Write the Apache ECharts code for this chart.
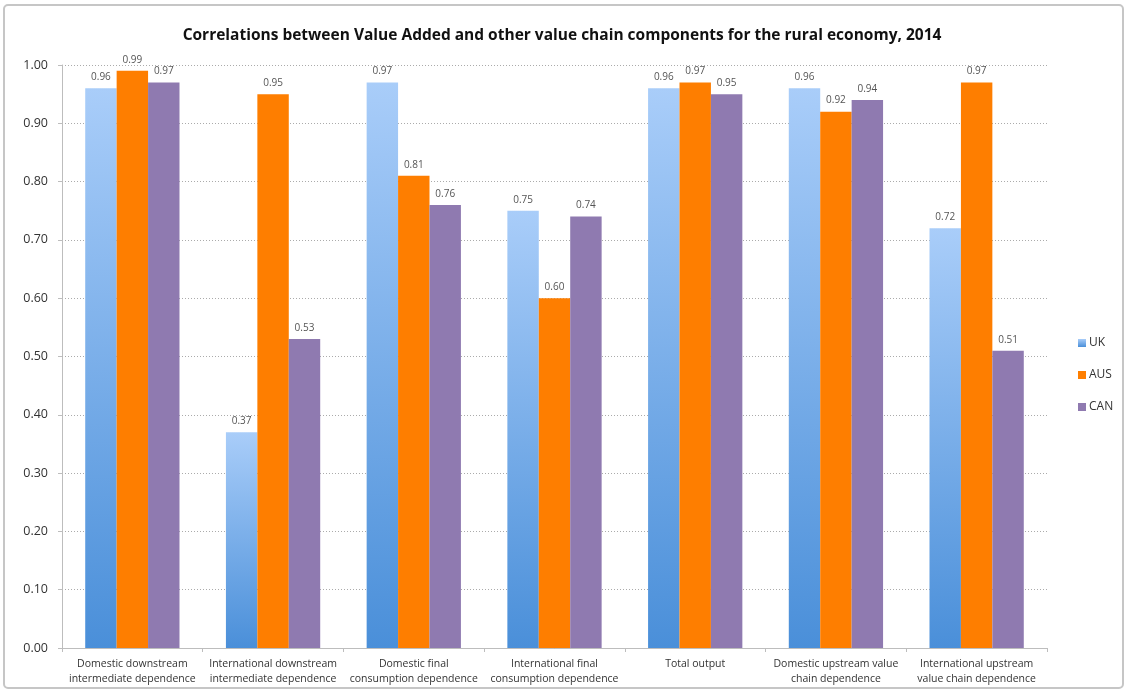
<!DOCTYPE html>
<html>
<head>
<meta charset="utf-8">
<script src="https://cdn.jsdelivr.net/npm/echarts@6/dist/echarts.min.js"></script>
<style>
  html, body { margin: 0; padding: 0; background: #fff; }
  #chart { width: 1128px; height: 693px; }
</style>
</head>
<body>
<div id="chart"></div>
<script>
// Value chain components (x-axis categories)
const categories = [
  'Domestic downstream\nintermediate dependence',
  'International downstream\nintermediate dependence',
  'Domestic final\nconsumption dependence',
  'International final\nconsumption dependence',
  'Total output',
  'Domestic upstream value\nchain dependence',
  'International upstream\nvalue chain dependence'
];

// Correlation with Value Added, by country
const ukValues  = [0.96, 0.37, 0.97, 0.75, 0.96, 0.96, 0.72];
const ausValues = [0.99, 0.95, 0.81, 0.60, 0.97, 0.92, 0.97];
const canValues = [0.97, 0.53, 0.76, 0.74, 0.95, 0.94, 0.51];

const seriesNames = ['UK', 'AUS', 'CAN'];

const chart = echarts.init(document.getElementById('chart'));

const labelStyle = {
  show: true,
  position: 'top',
  distance: 6,
  color: '#555',
  fontSize: 10,
  fontFamily: 'Open Sans',
  formatter: p => p.value.toFixed(2)
};

const ukFill = new echarts.graphic.LinearGradient(0, 0, 0, 1, [
  { offset: 0, color: '#a9cdf9' },
  { offset: 1, color: '#4a8fd9' }
]);

chart.setOption({
  animation: false,
  backgroundColor: '#fff',
  title: {
    text: 'Correlations between Value Added and other value chain components for the rural economy, 2014',
    left: 557,
    textAlign: 'center',
    top: 23,
    textStyle: { fontFamily: 'Open Sans', fontWeight: 'bold', fontSize: 15.5, color: '#111' }
  },
  graphic: [{
    type: 'rect',
    shape: { x: 4, y: 5, width: 1119, height: 683, r: 4 },
    style: { fill: 'none', stroke: '#c6c6c6', lineWidth: 2 },
    silent: true
  }],
  legend: {
    orient: 'vertical',
    left: 1073,
    top: 332,
    itemGap: 20,
    itemWidth: 8,
    itemHeight: 8,
    icon: 'rect',
    textStyle: { fontFamily: 'Open Sans', fontSize: 12, color: '#333', padding: [0, 0, 0, -2] },
    data: seriesNames
  },
  grid: { left: 62, right: 81, top: 65, bottom: 45, containLabel: false },
  xAxis: {
    type: 'category',
    data: categories,
    axisLine: { lineStyle: { color: '#bdbdbd', width: 1 } },
    axisTick: { show: true, alignWithLabel: false, length: 4, lineStyle: { color: '#bdbdbd' } },
    axisLabel: {
      color: '#333',
      fontSize: 10.5,
      fontFamily: 'Open Sans',
      lineHeight: 15,
      margin: 9,
      interval: 0
    }
  },
  yAxis: {
    type: 'value',
    min: 0,
    max: 1,
    interval: 0.1,
    axisLine: { show: true, lineStyle: { color: '#bdbdbd', width: 1 } },
    axisTick: { show: true, length: 4, lineStyle: { color: '#bdbdbd' } },
    axisLabel: {
      color: '#333',
      fontSize: 12.5,
      fontFamily: 'Open Sans',
      margin: 14,
      formatter: v => v.toFixed(2)
    },
    splitLine: { show: true, lineStyle: { color: '#ababab', type: [1, 2], width: 1 } }
  },
  series: [
    {
      name: 'UK', type: 'bar', data: ukValues,
      barGap: '0%', barCategoryGap: '33%',
      itemStyle: { color: ukFill },
      label: labelStyle
    },
    {
      name: 'AUS', type: 'bar', data: ausValues,
      barGap: '0%', barCategoryGap: '33%',
      itemStyle: { color: '#fe7e00' },
      label: labelStyle
    },
    {
      name: 'CAN', type: 'bar', data: canValues,
      barGap: '0%', barCategoryGap: '33%',
      itemStyle: { color: '#8f7ab0' },
      label: labelStyle
    }
  ]
});
</script>
</body>
</html>
